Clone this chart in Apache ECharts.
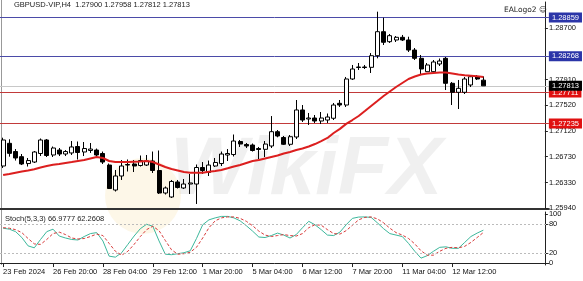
<!DOCTYPE html>
<html><head><meta charset="utf-8">
<script src="https://cdn.jsdelivr.net/npm/echarts@6/dist/echarts.min.js"></script>
<style>html,body{margin:0;padding:0;background:#fff}#c{width:583px;height:281px}</style>
</head><body><div id="c"></div>
<script>
const categories = ["23 Feb 2024","23 Feb 16:00","23 Feb 20:00",
"26 Feb 00:00","26 Feb 04:00","26 Feb 08:00","26 Feb 12:00","26 Feb 16:00","26 Feb 20:00",
"27 Feb 00:00","27 Feb 04:00","27 Feb 08:00","27 Feb 12:00","27 Feb 16:00","27 Feb 20:00",
"28 Feb 00:00","28 Feb 04:00","28 Feb 08:00","28 Feb 12:00","28 Feb 16:00","28 Feb 20:00",
"29 Feb 00:00","29 Feb 04:00","29 Feb 08:00","29 Feb 12:00","29 Feb 16:00","29 Feb 20:00",
"1 Mar 00:00","1 Mar 04:00","1 Mar 08:00","1 Mar 12:00","1 Mar 16:00","1 Mar 20:00",
"4 Mar 00:00","4 Mar 04:00","4 Mar 08:00","4 Mar 12:00","4 Mar 16:00","4 Mar 20:00",
"5 Mar 00:00","5 Mar 04:00","5 Mar 08:00","5 Mar 12:00","5 Mar 16:00","5 Mar 20:00",
"6 Mar 00:00","6 Mar 04:00","6 Mar 08:00","6 Mar 12:00","6 Mar 16:00","6 Mar 20:00",
"7 Mar 00:00","7 Mar 04:00","7 Mar 08:00","7 Mar 12:00","7 Mar 16:00","7 Mar 20:00",
"8 Mar 00:00","8 Mar 04:00","8 Mar 08:00","8 Mar 12:00","8 Mar 16:00","8 Mar 20:00",
"11 Mar 00:00","11 Mar 04:00","11 Mar 08:00","11 Mar 12:00","11 Mar 16:00","11 Mar 20:00",
"12 Mar 00:00","12 Mar 04:00","12 Mar 08:00","12 Mar 12:00","12 Mar 16:00","12 Mar 20:00",
"13 Mar 00:00","13 Mar 04:00","13 Mar 08:00"];

const openP = [1.26584,1.26932,1.26806,1.26727,1.26622,1.26645,1.26776,1.26983,1.26753,1.26829,
1.26768,1.26784,1.26883,1.26799,1.26822,1.26829,1.26776,1.26599,1.26216,1.26431,
1.26607,1.26615,1.26592,1.26599,1.26661,1.26515,1.26170,1.26109,1.26339,1.26247,
1.26308,1.26308,1.26561,1.26485,1.26584,1.26622,1.26753,1.26760,1.26960,1.26914,
1.26906,1.26852,1.26840,1.26891,1.27110,1.27021,1.26917,1.27029,1.27443,1.27305,
1.27320,1.27274,1.27289,1.27316,1.27545,1.27519,1.27918,1.28094,1.28102,1.28097,
1.28275,1.28643,1.28490,1.28516,1.28557,1.28516,1.28362,1.28235,1.28030,1.28030,
1.28148,1.28235,1.27852,1.27714,1.27714,1.27826,1.27953,1.27900];
const highP = [1.27018,1.26994,1.26844,1.26768,1.26707,1.26814,1.27006,1.26998,1.26883,1.26860,
1.26829,1.26967,1.26960,1.26952,1.26937,1.26852,1.26806,1.26622,1.26523,1.26676,
1.26684,1.26676,1.26745,1.26753,1.26806,1.26822,1.26270,1.26370,1.26370,1.26385,
1.26462,1.26607,1.26645,1.26668,1.26707,1.26806,1.26844,1.27067,1.26983,1.26937,
1.26929,1.26876,1.26967,1.27350,1.27136,1.27044,1.27059,1.27596,1.27519,1.27397,
1.27366,1.27412,1.27389,1.27550,1.27596,1.27949,1.28133,1.28163,1.28133,1.28316,
1.28950,1.28858,1.28608,1.28577,1.28593,1.28566,1.28393,1.28286,1.28163,1.28209,
1.28232,1.28255,1.27872,1.27903,1.27949,1.27972,1.27979,1.27958];
const lowP = [1.26554,1.26727,1.26668,1.26599,1.26576,1.26630,1.26737,1.26722,1.26722,1.26737,
1.26737,1.26753,1.26684,1.26737,1.26784,1.26737,1.26615,1.26232,1.26193,1.26370,
1.26500,1.26492,1.26576,1.26584,1.26477,1.26155,1.26147,1.26094,1.26239,1.26232,
1.26155,1.26002,1.26462,1.26431,1.26569,1.26584,1.26661,1.26730,1.26876,1.26860,
1.26806,1.26691,1.26722,1.26860,1.27024,1.26906,1.26891,1.26998,1.27259,1.27213,
1.27243,1.27228,1.27243,1.27289,1.27489,1.27489,1.27903,1.28056,1.28071,1.28010,
1.28235,1.28439,1.28470,1.28485,1.28500,1.28332,1.28209,1.27979,1.28025,1.28010,
1.28117,1.27749,1.27519,1.27458,1.27688,1.27795,1.27903,1.27812];
const closeP = [1.26983,1.26778,1.26707,1.26615,1.26668,1.26799,1.26983,1.26745,1.26860,1.26768,
1.26806,1.26876,1.26791,1.26852,1.26844,1.26753,1.26645,1.26239,1.26431,1.26584,
1.26599,1.26584,1.26668,1.26661,1.26515,1.26170,1.26247,1.26347,1.26255,1.26308,
1.26324,1.26561,1.26515,1.26599,1.26638,1.26768,1.26776,1.26967,1.26921,1.26891,
1.26822,1.26837,1.26921,1.27110,1.27044,1.26917,1.27033,1.27443,1.27289,1.27320,
1.27274,1.27320,1.27335,1.27519,1.27519,1.27918,1.28071,1.28102,1.28094,1.28275,
1.28643,1.28481,1.28582,1.28557,1.28516,1.28362,1.28235,1.28071,1.28133,1.28179,
1.28194,1.27852,1.27714,1.27775,1.27918,1.27953,1.27918,1.27813];
const maLine = [1.26446,1.26462,1.26482,1.26500,1.26515,1.26534,1.26561,1.26584,1.26603,1.26615,
1.26630,1.26645,1.26661,1.26676,1.26699,1.26722,1.26707,1.26661,1.26645,1.26645,
1.26645,1.26650,1.26653,1.26661,1.26645,1.26607,1.26569,1.26538,1.26515,1.26492,
1.26482,1.26482,1.26482,1.26497,1.26508,1.26523,1.26549,1.26577,1.26599,1.26630,
1.26661,1.26676,1.26699,1.26722,1.26745,1.26776,1.26799,1.26829,1.26852,1.26883,
1.26921,1.26967,1.27014,1.27090,1.27153,1.27230,1.27289,1.27351,1.27427,1.27504,
1.27580,1.27657,1.27726,1.27795,1.27857,1.27918,1.27956,1.27987,1.28002,1.28010,
1.28017,1.28017,1.28002,1.27987,1.27975,1.27967,1.27959,1.27949];
const stochK = [71,69,64,52,35,31,48,64,69,55,51,48,47,54,60,62,45,14,12,21,
38,55,70,79,75,45,18,17,19,21,25,50,78,88,92,95,95,92,86,76,
65,53,52,56,61,57,51,58,72,85,78,68,57,56,63,78,91,93.7,94,93,
82,70,60,57,54,40,24,10,15,24,32,33,30,30,42,54,61,66.98];
const stochD = [72,71,68,62,50,39,38,48,60,63,58,51,49,50,54,59,56,40,24,16,
24,38,54,68,75,66,46,27,18,19,22,32,51,72,86,92,94,94,91,85,
76,65,57,54,56,58,56,55,60,72,78,77,68,60,59,66,77,88,93,94,
90,82,71,62,57,50,39,25,16,16,24,30,32,31,34,42,52,62.26];
const priceTicks = [1.28700,1.27910,1.27520,1.27120,1.26730,1.26330,1.25940];
const stochTicks = [0,20,80,100];
const blueLevels = [1.28859,1.28268];
const redLevels = [1.27711,1.27235];
const lastPrice = 1.27813;
const stochLevels = [20,80];
const header = "GBPUSD-VIP,H4  1.27900 1.27958 1.27812 1.27813";
const stochTitle = "Stoch(5,3,3) 66.9777 62.2608";

const PAD = 10;
const cats = categories.concat(Array(PAD).fill(""));
const candle = categories.map((c,i)=>[openP[i],closeP[i],lowP[i],highP[i]]);
const FONT = "Liberation Sans";
const chart = echarts.init(document.getElementById('c'), null, {renderer:'canvas'});
const lvlLabel = (bg)=>({show:true,position:'end',distance:0,formatter:p=>Number(p.value).toFixed(5),
  backgroundColor:bg,color:'#fff',fontSize:7.5,fontFamily:FONT,padding:[1,3,0,3],lineHeight:9});
const markData = [
  ...blueLevels.map(v=>({yAxis:v,lineStyle:{color:'#4b4ba8',width:1,type:'solid'},label:lvlLabel('#2b35a8')})),
  ...redLevels.map(v=>({yAxis:v,lineStyle:{color:'#c23a3a',width:1,type:'solid'},label:lvlLabel('#e01010')})),
  {yAxis:lastPrice,lineStyle:{color:'#c8c8c8',width:1,type:'solid'},label:lvlLabel('#000')}
];
const ymin = 1.29129 - 0.0001533*209, ymax = 1.29129 - 0.0001533*2;
chart.setOption({
  animation:false,
  backgroundColor:'#fff',
  textStyle:{fontFamily:FONT},
  grid:[{left:-1.125,top:2,width:550,height:207},{left:-1.125,top:212,width:550,height:53}],
  xAxis:[
    {gridIndex:0,type:'category',data:cats,boundaryGap:true,axisLine:{show:true,lineStyle:{color:'#333',width:2}},axisTick:{show:false},axisLabel:{show:false},splitLine:{show:false}},
    {gridIndex:1,type:'category',data:cats,boundaryGap:true,axisLine:{show:true,lineStyle:{color:'#222',width:1}},
     axisTick:{show:true,alignWithLabel:true,interval:(i)=>i%8===0&&i<categories.length,length:4,lineStyle:{color:'#222'}},
     axisLabel:{interval:(i)=>i%8===0&&i<categories.length,align:'left',fontSize:7.5,color:'#111',margin:3,fontFamily:FONT},splitLine:{show:false}}
  ],
  yAxis:[
    {gridIndex:0,type:'value',position:'right',offset:-4,min:ymin,max:ymax,
     axisLine:{show:true,lineStyle:{color:'#222'}},
     axisTick:{show:true,customValues:priceTicks,length:3,lineStyle:{color:'#222'}},
     axisLabel:{customValues:priceTicks,formatter:v=>v.toFixed(5),fontSize:7.5,color:'#111',margin:4,fontFamily:FONT},splitLine:{show:false}},
    {gridIndex:1,type:'value',position:'right',offset:-4,min:-4,max:104,
     axisLine:{show:true,lineStyle:{color:'#222'}},
     axisTick:{show:true,customValues:stochTicks,length:3,lineStyle:{color:'#222'}},
     axisLabel:{customValues:stochTicks,fontSize:7.5,color:'#111',margin:4,fontFamily:FONT},splitLine:{show:false}}
  ],
  graphic:[
    {type:'circle',shape:{cx:143,cy:196,r:38},z:0,silent:true,style:{fill:'rgba(240,200,90,0.14)'}},
    {type:'text',left:170,top:130,z:0,silent:true,style:{text:'WikiFX',font:'italic bold 82px "Liberation Sans"',fill:'rgba(0,0,0,0.06)'}},
    {type:'text',left:14,top:1,style:{text:header,font:'7.5px "Liberation Sans"',fill:'#222'}},
    {type:'text',left:504,top:6,style:{text:'EALogo2 ☺',font:'7.5px "DejaVu Sans"',fill:'#222'}},
    {type:'text',left:5,top:215,style:{text:stochTitle,font:'7.5px "Liberation Sans"',fill:'#222'}},
    {type:'line',shape:{x1:1.5,y1:0,x2:1.5,y2:265},style:{stroke:'#999',lineWidth:1}}
  ],
  series:[
    {type:'candlestick',xAxisIndex:0,yAxisIndex:0,data:candle,barWidth:4.5,z:3,
     itemStyle:{color:'#fff',color0:'#000',borderColor:'#000',borderColor0:'#000',borderWidth:1},
     markLine:{silent:true,symbol:'none',precision:5,animation:false,data:markData,z:2}},
    {type:'line',xAxisIndex:0,yAxisIndex:0,data:maLine,symbol:'none',z:4,lineStyle:{color:'#dc1f1f',width:2}},
    {type:'line',xAxisIndex:1,yAxisIndex:1,data:stochK,symbol:'none',lineStyle:{color:'#3db89c',width:1},
     markLine:{silent:true,symbol:'none',label:{show:false},data:stochLevels.map(v=>({yAxis:v})),lineStyle:{color:'#bbb',type:[2,2],width:1}}},
    {type:'line',xAxisIndex:1,yAxisIndex:1,data:stochD,symbol:'none',lineStyle:{color:'#d83a3a',width:1,type:[3,2]}}
  ]
});
</script></body></html>
